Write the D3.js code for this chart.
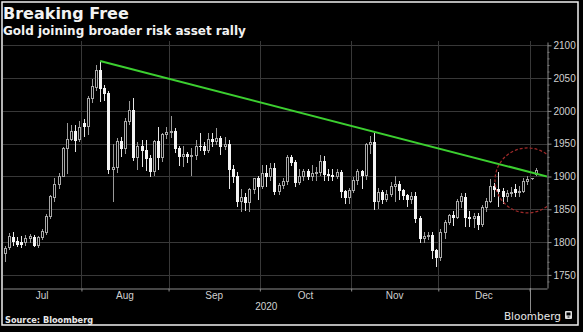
<!DOCTYPE html>
<html><head><meta charset="utf-8">
<script src="https://cdn.jsdelivr.net/npm/d3@7"></script>
<style>
html,body{margin:0;padding:0;background:#000;}
svg{display:block;}
</style></head>
<body>
<svg id="c" width="583" height="332"></svg>
<script>
// ---- data ----
const startDate = "2020-07-07", endDate = "2021-01-04";
const skipDates = ["2020-12-25"];
const open = [
 1783,1792,1808,1802,1800,1800,1806,1808,1795,1807,1816,1840,1868,1888,1901,1943,1957,1970,1957,
 1981,1977,2019,2037,2063,2035,2028,1911,1915,1954,1944,1985,2001,1929,1946,1940,1928,1908,1954,1929,1964,
 1968,1970,1944,1931,1934,1931,1932,1947,1946,1940,1957,1954,1959,1946,1950,1912,1900,1863,1868,1861,1881,1897,
 1886,1906,1900,1913,1878,1887,1893,1930,1922,1891,1900,1908,1900,1905,1907,1924,1904,1902,1901,1907,1878,1868,
 1879,1894,1908,1902,1949,1953,1862,1877,1866,1873,1886,1888,1879,1872,1866,1871,1837,1806,1810,1811,1788,
 1777,1815,1830,1841,1838,1863,1868,1838,1836,1840,1827,1854,1863,1886,1881,1878,1871,1875,1881,1876,1878,1893,
 1897,1904];
const high = [
 1794,1814,1815,1808,1809,1811,1813,1811,1810,1820,1843,1872,1898,1906,1945,1981,1978,1978,1984,
 1987,2022,2049,2070,2075,2040,2031,1950,1958,1960,1989,2015,2020,1952,1955,1955,1932,1955,1976,1966,1975,
 1992,1974,1947,1946,1937,1943,1955,1966,1953,1966,1967,1974,1962,1960,1955,1918,1907,1881,1875,1882,1898,1900,
 1917,1918,1920,1921,1890,1898,1933,1933,1925,1911,1912,1912,1917,1915,1932,1931,1912,1911,1912,1910,1880,1882,
 1899,1911,1910,1951,1962,1966,1882,1880,1880,1892,1900,1893,1881,1874,1876,1876,1839,1815,1816,1815,1790,
 1820,1833,1843,1848,1866,1875,1875,1848,1844,1844,1857,1867,1896,1890,1907,1882,1880,1884,1889,1885,1897,1900,
 1898,1913];
const low = [
 1771,1789,1795,1794,1793,1795,1800,1794,1793,1805,1813,1836,1862,1882,1900,1906,1955,1939,1954,
 1962,1964,2013,2032,2015,2017,1905,1863,1907,1931,1936,1980,1925,1912,1916,1910,1901,1903,1911,1924,1959,
 1960,1937,1917,1916,1922,1903,1927,1940,1934,1938,1946,1949,1934,1942,1882,1891,1855,1848,1849,1847,1875,1866,
 1882,1885,1895,1873,1873,1882,1889,1917,1886,1889,1894,1896,1895,1895,1902,1895,1895,1894,1898,1869,1860,1860,
 1876,1889,1883,1896,1936,1850,1852,1859,1862,1871,1863,1866,1865,1855,1860,1830,1800,1800,1805,1775,1764,
 1773,1806,1827,1826,1836,1853,1824,1825,1823,1820,1825,1848,1861,1871,1855,1859,1862,1870,1870,1871,1876,1888,
 1896,1902];
const close = [
 1791,1809,1802,1797,1797,1806,1809,1795,1807,1817,1840,1870,1888,1901,1944,1957,1970,1956,1975,
 1977,2019,2038,2063,2035,2028,1911,1915,1954,1944,1985,2001,1929,1946,1940,1928,1908,1954,1929,1964,1968,
 1970,1944,1931,1934,1931,1932,1947,1946,1940,1957,1954,1959,1946,1950,1912,1900,1863,1868,1861,1881,1897,1886,
 1906,1900,1913,1878,1887,1893,1930,1922,1891,1900,1908,1900,1905,1907,1924,1904,1902,1901,1907,1878,1868,1879,
 1894,1908,1902,1949,1953,1862,1877,1866,1873,1886,1888,1879,1872,1866,1871,1837,1806,1810,1811,1788,1777,
 1815,1830,1841,1838,1863,1870,1838,1836,1840,1828,1854,1863,1886,1881,1878,1871,1875,1877,1876,1878,1893,1896,
 1897,1910];
const yTicks = [1750,1800,1850,1900,1950,2000,2050,2100];
const yearLabel = "2020";
const trendStart = {date:"2020-08-07", value:2076};
const trendEndValue = 1900;
const circleMark = {date:"2020-12-31", value:1894};
const title = "Breaking Free";
const subtitle = "Gold joining broader risk asset rally";
const source = "Source: Bloomberg";

// ---- build ----
const parse = d3.utcParse("%Y-%m-%d"), fmt = d3.utcFormat("%Y-%m-%d");
const days = d3.utcDay.range(parse(startDate), d3.utcDay.offset(parse(endDate),1))
  .filter(d => d.getUTCDay()!==0 && d.getUTCDay()!==6 && !skipDates.includes(fmt(d)));
const data = days.map((d,i)=>({d,i,o:open[i],h:high[i],l:low[i],c:close[i]}));
const idxOf = s => days.findIndex(d => fmt(d)===s);

const L=3, R=547, T=41, B=288;
const x = d3.scaleLinear().domain([-0.4, 130.7]).range([L,R]);
const y = d3.scaleLinear().domain([1730, 2105]).range([B, 42]);

const svg = d3.select("#c");
svg.append("rect").attr("width",583).attr("height",332).attr("fill","#000");

svg.append("defs").append("clipPath").attr("id","clip")
  .append("rect").attr("x",L).attr("y",T).attr("width",R-L).attr("height",B-T);

// month boundaries
const bounds = [];
for (let i=1;i<days.length;i++) if (days[i].getUTCMonth()!==days[i-1].getUTCMonth()) bounds.push({b:i-0.5, month:days[i].getUTCMonth(), year:days[i].getUTCFullYear()!==days[i-1].getUTCFullYear()});

const grid = svg.append("g");
grid.selectAll("line.h").data(yTicks).join("line")
  .attr("x1",L).attr("x2",R).attr("y1",d=>Math.round(y(d))+0.5).attr("y2",d=>Math.round(y(d))+0.5)
  .attr("stroke","#383838").attr("stroke-width",1);
grid.selectAll("line.v").data(bounds).join("line")
  .attr("x1",d=>Math.round(x(d.b))+0.5).attr("x2",d=>Math.round(x(d.b))+0.5)
  .attr("y1",T).attr("y2",B).attr("stroke","#383838").attr("stroke-width",1);

// candles
const cg = svg.append("g").attr("clip-path","url(#clip)");
const cx = i => Math.round(x(i));
const ry = v => Math.round(y(v));
const up = d => d.c >= d.o;
cg.selectAll("line.w").data(data).join("line")
  .attr("x1",d=>cx(d.i)+0.5).attr("x2",d=>cx(d.i)+0.5)
  .attr("y1",d=>ry(d.h)).attr("y2",d=>ry(d.l)+1)
  .attr("stroke",d=>up(d)?"#9a9a9a":"#e6e6e6").attr("stroke-width",1);
cg.selectAll("rect.dn").data(data.filter(d=>!up(d))).join("rect")
  .attr("x",d=>cx(d.i)-1).attr("width",3)
  .attr("y",d=>ry(d.o)).attr("height",d=>Math.max(1, ry(d.c)-ry(d.o)+1))
  .attr("fill","#f4f4f4");
cg.selectAll("rect.up").data(data.filter(up)).join("rect")
  .attr("x",d=>cx(d.i)-0.5).attr("width",2)
  .attr("y",d=>ry(d.c)+0.5).attr("height",d=>Math.max(0.01, ry(d.o)-ry(d.c)))
  .attr("fill","#000").attr("stroke","#a8a8a8").attr("stroke-width",1);

// trend line
const ts = idxOf(trendStart.date);
svg.append("line").attr("clip-path","url(#clip)")
  .attr("x1",x(ts)).attr("y1",y(trendStart.value))
  .attr("x2",x(x.domain()[1])).attr("y2",y(trendEndValue))
  .attr("stroke","#3ccf30").attr("stroke-width",2);

// circle annotation
svg.append("circle").attr("clip-path","url(#clip)")
  .attr("cx",x(idxOf(circleMark.date))).attr("cy",y(circleMark.value)).attr("r",32.5)
  .attr("fill","none").attr("stroke","#a02a2a").attr("stroke-width",1.2).attr("stroke-dasharray","3,2");

// right axis
const ya = svg.append("g").attr("transform",`translate(${R+0.5},0)`)
  .call(d3.axisRight(y).tickValues(yTicks).tickSize(4).tickSizeOuter(0).tickPadding(2).tickFormat(d3.format("d")));
ya.select(".domain").attr("stroke","#8c8c8c");
ya.selectAll(".tick line").attr("stroke","#8c8c8c");
ya.selectAll("text").attr("fill","#d0d0d0").style("font-family","'Liberation Sans',Arial,sans-serif").style("font-size","10px");
const minor = d3.range(1740, 2101, 10).filter(v=>!yTicks.includes(v));
svg.append("g").attr("transform",`translate(${R+0.5},0)`)
  .call(d3.axisRight(y).tickValues(minor).tickSize(2).tickSizeOuter(0).tickFormat(""))
  .call(g=>{g.select(".domain").remove(); g.selectAll(".tick line").attr("stroke","#7a7a7a");});

// bottom axis
const xa = svg.append("g").attr("transform",`translate(0,${B+0.5})`)
  .call(d3.axisBottom(x).tickValues(bounds.map(b=>b.b)).tickSize(3).tickSizeOuter(0).tickFormat(""));
xa.select(".domain").attr("stroke","#8c8c8c");
xa.selectAll(".tick line").attr("stroke","#8c8c8c");
// year boundary long tick
svg.selectAll("line.yr").data(bounds.filter(b=>b.year)).join("line")
  .attr("x1",d=>Math.round(x(d.b))+0.5).attr("x2",d=>Math.round(x(d.b))+0.5)
  .attr("y1",B).attr("y2",313).attr("stroke","#8c8c8c");

// month labels centred in visible month spans
const edges = [x.domain()[0]].concat(bounds.map(b=>b.b));
const monthFmt = d3.utcFormat("%b");
const spans = [];
for (let k=0;k<edges.length-1;k++){
  const firstIdx = Math.ceil(edges[k]);
  spans.push({a:Math.max(L,x(edges[k])), b:x(edges[k+1]), label:monthFmt(days[Math.max(0,firstIdx)])});
}
const axisFont = "'Liberation Sans',Arial,sans-serif";
svg.selectAll("text.m").data(spans).join("text")
  .attr("x",d=>(d.a+d.b)/2).attr("y",298.5).attr("text-anchor","middle")
  .attr("fill","#d0d0d0").style("font-family",axisFont).style("font-size","10px").text(d=>d.label);
const yb = bounds.find(b=>b.year);
svg.append("text").attr("x",(L+x(yb.b))/2).attr("y",310).attr("text-anchor","middle")
  .attr("fill","#d0d0d0").style("font-family",axisFont).style("font-size","10px").text(yearLabel);

// titles
svg.append("text").attr("x",3).attr("y",18.5).attr("fill","#f2f2f2")
  .style("font-family","'DejaVu Sans',sans-serif").style("font-weight","bold").style("font-size","16px").text(title);
svg.append("text").attr("x",3).attr("y",35).attr("fill","#f2f2f2")
  .style("font-family","'DejaVu Sans',sans-serif").style("font-weight","bold").style("font-size","12px").text(subtitle);
svg.append("text").attr("x",5).attr("y",322.5).attr("fill","#e8e8e8")
  .style("font-family","'DejaVu Sans',sans-serif").style("font-weight","bold").style("font-size","8.2px").text(source);
svg.append("text").attr("x",561).attr("y",320).attr("text-anchor","end").attr("fill","#e8e8e8")
  .style("font-family","'DejaVu Sans',sans-serif").style("font-size","10.5px").text("Bloomberg");
// logo
const lg = svg.append("g").attr("transform","translate(565,311)");
lg.append("rect").attr("width",7).attr("height",8).attr("rx",1).attr("fill","#e0e0e0");
lg.append("rect").attr("x",1.5).attr("y",1.5).attr("width",4).attr("height",3).attr("fill","#000");
lg.append("rect").attr("x",2.5).attr("y",5.5).attr("width",2).attr("height",1).attr("fill","#000");

// frame
svg.append("rect").attr("x",2).attr("y",2).attr("width",576).attr("height",323)
  .attr("fill","none").attr("stroke","#f0f0f0").attr("stroke-width",1.5);
</script>
</body></html>
